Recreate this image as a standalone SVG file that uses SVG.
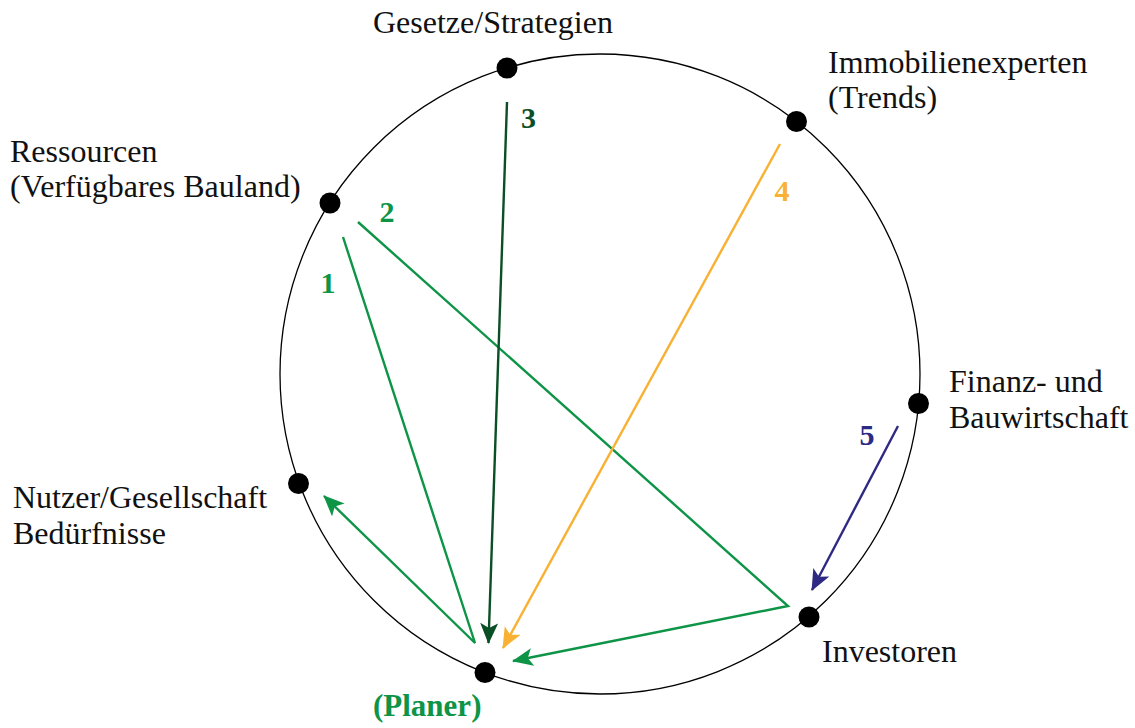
<svg xmlns="http://www.w3.org/2000/svg" width="1135" height="728" viewBox="0 0 1135 728">
<style>
.lbl{font-family:"Liberation Serif","Times New Roman",serif;font-size:32px;fill:#111}
.num{font-family:"Liberation Serif","Times New Roman",serif;font-size:30px;font-weight:bold}
.pl{font-family:"Liberation Serif","Times New Roman",serif;font-size:31px;font-weight:bold}
.dot{fill:#000}
.ln{fill:none;stroke-width:2.4;stroke-linejoin:miter}
</style>
<defs>
<marker id="aG" markerUnits="userSpaceOnUse" markerWidth="24" markerHeight="20" refX="20" refY="9" orient="auto"><path d="M0,0 L21,9 L0,18 L5,9 z" fill="#0e9447"/></marker>
<marker id="aD" markerUnits="userSpaceOnUse" markerWidth="24" markerHeight="20" refX="20" refY="9" orient="auto"><path d="M0,0 L21,9 L0,18 L5,9 z" fill="#0b4f26"/></marker>
<marker id="aO" markerUnits="userSpaceOnUse" markerWidth="24" markerHeight="20" refX="20" refY="9" orient="auto"><path d="M0,0 L21,9 L0,18 L5,9 z" fill="#f8b133"/></marker>
<marker id="aP" markerUnits="userSpaceOnUse" markerWidth="24" markerHeight="20" refX="20" refY="9" orient="auto"><path d="M0,0 L21,9 L0,18 L5,9 z" fill="#2e2a84"/></marker>
</defs>
<circle cx="600" cy="374" r="320" fill="none" stroke="#000" stroke-width="1.3"/>
<g id="connectors">
<polyline class="ln" stroke="#0e9447" points="343,237 475,643 324,496" marker-end="url(#aG)"/>
<polyline class="ln" stroke="#0e9447" points="358,222 788,606 513,661" marker-end="url(#aG)"/>
<line class="ln" stroke="#0b4f26" x1="507" y1="102" x2="488.5" y2="643" marker-end="url(#aD)"/>
<line class="ln" stroke="#f8b133" x1="780" y1="144" x2="503" y2="648" marker-end="url(#aO)"/>
<line class="ln" stroke="#2e2a84" x1="898" y1="426" x2="812" y2="590" marker-end="url(#aP)"/>
<text class="num" x="328" y="293" fill="#0e9447" text-anchor="middle">1</text>
<text class="num" x="387" y="222" fill="#0e9447" text-anchor="middle">2</text>
<text class="num" x="528.5" y="128" fill="#0b4f26" text-anchor="middle">3</text>
<text class="num" x="782" y="201" fill="#f8b133" text-anchor="middle">4</text>
<text class="num" x="867" y="445" fill="#2e2a84" text-anchor="middle">5</text>
</g>
<g id="gesetze"><circle class="dot" cx="507" cy="68" r="10.5"/><text class="lbl" x="373" y="33">Gesetze/Strategien</text></g>
<g id="immobilien"><circle class="dot" cx="796.5" cy="121.5" r="10.5"/><text class="lbl" x="828" y="73">Immobilienexperten</text><text class="lbl" x="828" y="108">(Trends)</text></g>
<g id="ressourcen"><circle class="dot" cx="330" cy="203" r="10.5"/><text class="lbl" x="10" y="162">Ressourcen</text><text class="lbl" x="10" y="197">(Verfügbares Bauland)</text></g>
<g id="finanz"><circle class="dot" cx="918.5" cy="403.5" r="10.5"/><text class="lbl" x="949" y="392">Finanz- und</text><text class="lbl" x="949" y="428">Bauwirtschaft</text></g>
<g id="nutzer"><circle class="dot" cx="298.5" cy="483.5" r="10.5"/><text class="lbl" x="13" y="508">Nutzer/Gesellschaft</text><text class="lbl" x="13" y="544">Bedürfnisse</text></g>
<g id="investoren"><circle class="dot" cx="809" cy="617" r="10.5"/><text class="lbl" x="822" y="662">Investoren</text></g>
<g id="planer"><circle class="dot" cx="485" cy="672.5" r="10.5"/><text class="pl" x="373" y="716" fill="#0e9447">(Planer)</text></g>
</svg>
